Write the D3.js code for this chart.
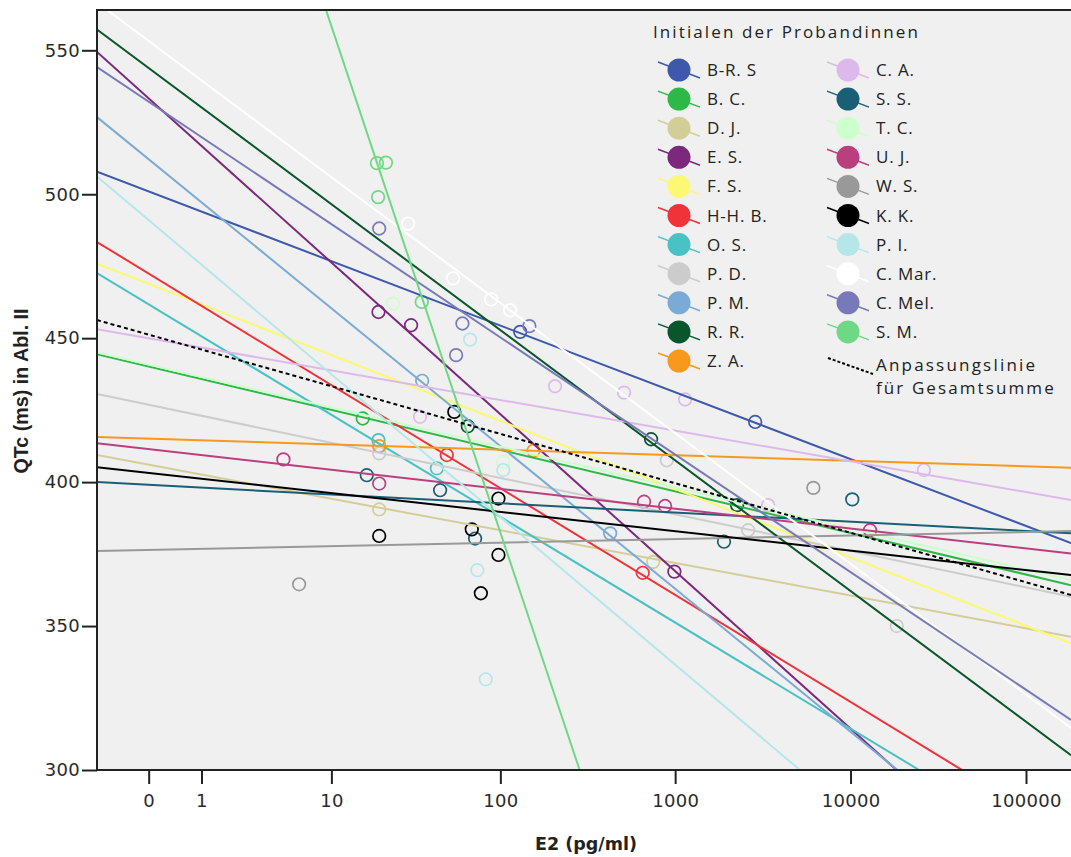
<!DOCTYPE html>
<html><head><meta charset="utf-8">
<script src="https://cdnjs.cloudflare.com/ajax/libs/d3/7.8.5/d3.min.js"></script>
<style>body{margin:0;background:#fff}</style>
</head><body><svg id="c" width="1071" height="857"></svg>
<script>
// ---------- data ----------
const persons = ["B-R. S","B. C.","D. J.","E. S.","F. S.","H-H. B.","O. S.","P. D.","P. M.","R. R.","Z. A.",
                 "C. A.","S. S.","T. C.","U. J.","W. S.","K. K.","P. I.","C. Mar.","C. Mel.","S. M."];
const colors = ["#3E58AC","#2EB848","#D3CE97","#7C287D","#FBF873","#EF3338","#48C2C5","#CCCCCC","#7AAAD5","#0A562C","#F8981D",
                "#DDB9EB","#1A5F76","#CCFFCC","#BB3F7F","#999999","#000000","#B6E7E8","#FFFFFF","#7979B9","#6FD884"];
// fitted QTc at the left and right end of the E2 range, one per person
const fitAtMin = [507.8,444.4,409.4,549.4,475.9,483.4,472.6,430.6,526.8,557.2,415.7,
                  453.1,400.0,445.0,413.5,376.1,405.2,506.2,566.6,544.2,802.4];
const fitAtMax = [378.8,364.2,346.3,245.6,344.0,276.9,268.1,360.2,250.8,305.1,405.0,
                  393.8,382.2,366.0,375.2,383.0,367.7,220.5,314.6,317.4,-211.5];
// measured points (E2 pg/ml, QTc ms) per person
const e2Values = [
  [130,2860],[15.6],[19.6,750],[19.4,30.3,990],[],[49,653],[19.4,42.9],[19.6,896,2607,18340],[35.2,425.6],
  [64.9,729,2255],[19.6,155],
  [34.2,206,511,1140,3390,26200],[16.5,44.8,71.5,1900,10230],[23.7,104],[4.86,19.6,664.6,876,12910],[6.2,6138],
  [19.6,54.2,68.4,77.2,97.5,97.5],[66.9,73.7,82.4,104],[29.1,53.3,88.5,113.8],[19.6,55.5,60.4,146.8],[19.0,21.5,19.3,35.0]
];
const qtcValues = [
  [452.2,420.9],[422.1],[390.5,372.3],[459.1,454.5,368.9],[],[409.4,368.5],[414.6,404.8],[410.0,407.6,383.3,350.0],[435.2,382.2],
  [419.4,414.9,392.0],[412.5,410.9],
  [422.7,433.3,431.1,428.7,392.0,404.2],[402.4,397.2,380.4,379.3,394.0],[462.0,407.0],[407.9,399.5,393.2,391.7,383.3],[364.5,398.0],
  [381.3,424.4,383.6,361.4,374.7,394.3],[449.5,369.4,331.5,404.2],[489.8,470.8,463.5,459.7],[488.1,444.1,455.1,454.2],[510.8,511.0,499.0,462.6]
];
const totalFit = [456.3, 360.8];
const xTicks = [0,1,10,100,1000,10000,100000];
const yTicks = [300,350,400,450,500,550];
const xDomain = [-0.97, 180500];
const yDomain = [300, 564];
const legendTitle = "Initialen der Probandinnen";
const totalLabel = ["Anpassungslinie","für Gesamtsumme"];

// ---------- chart ----------
const svg = d3.select("#c");
const L = 97, R = 1071, T = 10, B = 770;
const x = d3.scaleSymlog().constant(1).domain(xDomain).range([L, R]);
const y = d3.scaleLinear().domain(yDomain).range([B, T]);

svg.append("rect").attr("x", L).attr("y", T).attr("width", R - L).attr("height", B - T).attr("fill", "#F0F0F0");
svg.append("clipPath").attr("id", "clip").append("rect")
  .attr("x", L).attr("y", T).attr("width", R - L).attr("height", B - T);
const plot = svg.append("g").attr("clip-path", "url(#clip)");

// points
persons.forEach((p, i) => {
  plot.append("g").selectAll("circle")
    .data(d3.range(e2Values[i].length))
    .join("circle")
    .attr("cx", j => x(e2Values[i][j]))
    .attr("cy", j => y(qtcValues[i][j]))
    .attr("r", 6.3)
    .attr("fill", "none")
    .attr("stroke", colors[i])
    .attr("stroke-width", 1.7);
});

// fit lines
const line = d3.line().x(d => x(d[0])).y(d => y(d[1]));
persons.forEach((p, i) => {
  plot.append("path")
    .attr("d", line([[xDomain[0], fitAtMin[i]], [xDomain[1], fitAtMax[i]]]))
    .attr("fill", "none").attr("stroke", colors[i]).attr("stroke-width", 2);
});
plot.append("path")
  .attr("d", line([[xDomain[0], totalFit[0]], [xDomain[1], totalFit[1]]]))
  .attr("fill", "none").attr("stroke", "#000").attr("stroke-width", 2)
  .attr("stroke-dasharray", "4,3");

// axes
const tickFont = "'DejaVu Sans', sans-serif";
const xa = svg.append("g").attr("transform", `translate(0,${B})`)
  .call(d3.axisBottom(x).tickValues(xTicks).tickFormat(d3.format("d")).tickSize(14).tickPadding(10).tickSizeOuter(0));
const ya = svg.append("g").attr("transform", `translate(${L},0)`)
  .call(d3.axisLeft(y).tickValues(yTicks).tickSize(15).tickPadding(2).tickSizeOuter(0));
[xa, ya].forEach(a => {
  a.select(".domain").remove();
  a.selectAll(".tick line").attr("stroke", "#222").attr("stroke-width", 2);
  a.selectAll(".tick text").attr("fill", "#2a2a2a").style("font-family", tickFont)
    .style("font-size", "18px").style("letter-spacing", "0.3px");
});

// frame
svg.append("line").attr("x1", L).attr("x2", L).attr("y1", T - 1).attr("y2", B + 1).attr("stroke", "#222").attr("stroke-width", 2);
svg.append("line").attr("x1", L).attr("x2", R).attr("y1", B).attr("y2", B).attr("stroke", "#222").attr("stroke-width", 2);
svg.append("line").attr("x1", L).attr("x2", R).attr("y1", T).attr("y2", T).attr("stroke", "#222").attr("stroke-width", 2);

// titles
svg.append("text").attr("x", 586).attr("y", 850).attr("text-anchor", "middle")
  .style("font-family", "'DejaVu Sans', sans-serif").style("font-weight", "bold").style("font-size", "17.5px")
  .attr("fill", "#222").text("E2 (pg/ml)");
svg.append("text").attr("transform", "translate(28,391) rotate(-90)").attr("text-anchor", "middle")
  .attr("textLength", 165).attr("lengthAdjust", "spacingAndGlyphs")
  .style("font-family", "'Liberation Sans', Arial, sans-serif").style("font-weight", "bold")
  .style("font-size", "20px").attr("fill", "#222").text("QTc (ms) in Abl. II");

// legend
const lg = svg.append("g");
const legFont = "'Open Sans', sans-serif";
lg.append("text").attr("x", 653).attr("y", 38).text(legendTitle)
  .style("font-family", legFont).style("font-size", "17px").style("letter-spacing", "2.1px").attr("fill", "#222");
const rowY = k => 70 + k * 29.1;
persons.forEach((p, i) => {
  const col = i < 11 ? 0 : 1, row = i < 11 ? i : i - 11;
  const cx = col ? 848 : 679, cy = rowY(row);
  lg.append("line").attr("x1", cx - 21).attr("y1", cy - 8).attr("x2", cx + 21).attr("y2", cy + 8)
    .attr("stroke", colors[i]).attr("stroke-width", 1.5);
  lg.append("circle").attr("cx", cx).attr("cy", cy).attr("r", 11.5).attr("fill", colors[i]);
  lg.append("text").attr("x", cx + 28).attr("y", cy + 6).text(p)
    .style("font-family", legFont).style("font-size", "17px").style("letter-spacing", "0.8px").attr("fill", "#222");
});
const ty = rowY(10);
lg.append("line").attr("x1", 828).attr("y1", ty - 3).attr("x2", 873).attr("y2", ty + 13)
  .attr("stroke", "#000").attr("stroke-width", 2).attr("stroke-dasharray", "3,2");
lg.append("text").attr("x", 876).attr("y", ty + 10).text(totalLabel[0])
  .style("font-family", legFont).style("font-size", "17px").style("letter-spacing", "2.2px").attr("fill", "#222");
lg.append("text").attr("x", 876).attr("y", ty + 33).text(totalLabel[1])
  .style("font-family", legFont).style("font-size", "17px").style("letter-spacing", "2.1px").attr("fill", "#222");
</script></body></html>
